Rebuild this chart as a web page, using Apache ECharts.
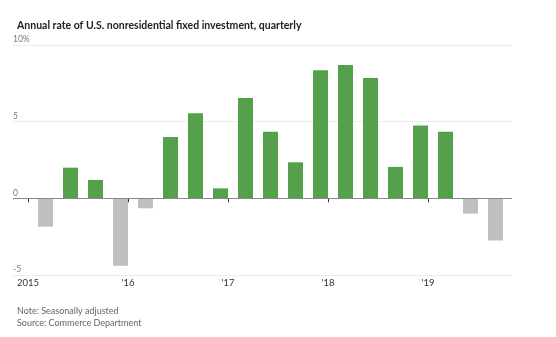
<!DOCTYPE html>
<html><head><meta charset="utf-8">
<script src="https://cdn.jsdelivr.net/npm/echarts@6/dist/echarts.min.js"></script>
<style>html,body{margin:0;padding:0;background:#fff}#c{width:556px;height:337px}</style>
</head><body><div id="c"></div>
<script>
const quarters = ['2015 Q1','2015 Q2','2015 Q3','2015 Q4','2016 Q1','2016 Q2','2016 Q3','2016 Q4','2017 Q1','2017 Q2','2017 Q3','2017 Q4','2018 Q1','2018 Q2','2018 Q3','2018 Q4','2019 Q1','2019 Q2','2019 Q3'];
const rates = [-1.85, 2.0, 1.2, -4.4, -0.65, 4.0, 5.55, 0.65, 6.55, 4.35, 2.35, 8.35, 8.7, 7.85, 2.05, 4.75, 4.35, -1.0, -2.75];
const yearTickQuarterIdx = [0, 4, 8, 12, 16];
const yearLabels = ['2015', "'16", "'17", "'18", "'19"];
const yTickLabels = {'10':'10%','5':'5','0':'0','-5':'-5'};

const GREEN = '#55a04b', GRAY = '#c0c0c0';
const barOffset = 0.7;
const data = rates.map((v, i) => ({
  value: [i + barOffset, v],
  name: quarters[i],
  itemStyle: v >= 0 ? { color: GREEN } : {
    color: GRAY,
    decal: { symbol: 'rect', symbolSize: 0.5, dashArrayX: [[1, 4]], dashArrayY: [1, 4], color: 'rgba(120,120,120,0.35)', rotation: 0 }
  }
}));

const chart = echarts.init(document.getElementById('c'));
chart.setOption({
  animation: false,
  backgroundColor: '#fff',
  title: [
    { text: 'Annual rate of U.S. nonresidential fixed investment, quarterly', left: 12, top: 15,
      textStyle: { fontFamily: 'Lato', fontWeight: 'bold', fontSize: 10.5, color: '#222' } },
    { text: 'Note: Seasonally adjusted\nSource: Commerce Department', left: 12, top: 300,
      textStyle: { fontFamily: 'Lato', fontWeight: 'normal', fontSize: 9, color: '#666', lineHeight: 12 } }
  ],
  grid: { left: 13, right: 44, top: 45, bottom: 62, containLabel: false },
  xAxis: {
    type: 'value', min: -0.6, max: 19.36,
    axisLine: { show: false },
    splitLine: { show: false },
    axisTick: { show: true, length: 4, lineStyle: { color: '#333' }, customValues: yearTickQuarterIdx },
    axisLabel: { customValues: yearTickQuarterIdx, margin: 3, fontFamily: 'Lato', fontSize: 9.5, color: '#333',
      formatter: v => yearLabels[yearTickQuarterIdx.indexOf(Math.round(v))] }
  },
  yAxis: {
    type: 'value', min: -5, max: 10, interval: 5,
    axisLine: { show: false }, axisTick: { show: false },
    splitLine: { lineStyle: { color: '#ececec', width: 1 } },
    axisLabel: { inside: true, margin: 0, verticalAlign: 'bottom', padding: [0, 0, 1, 0],
      fontFamily: 'Lato', fontSize: 8.5, color: '#777',
      formatter: v => yTickLabels[String(v)] || '' }
  },
  series: [{
    type: 'bar', barWidth: 15, data: data,
    markLine: { silent: true, symbol: 'none', label: { show: false },
      lineStyle: { color: '#888', width: 1, type: 'solid' }, data: [{ yAxis: 0 }] }
  }]
});
</script></body></html>
